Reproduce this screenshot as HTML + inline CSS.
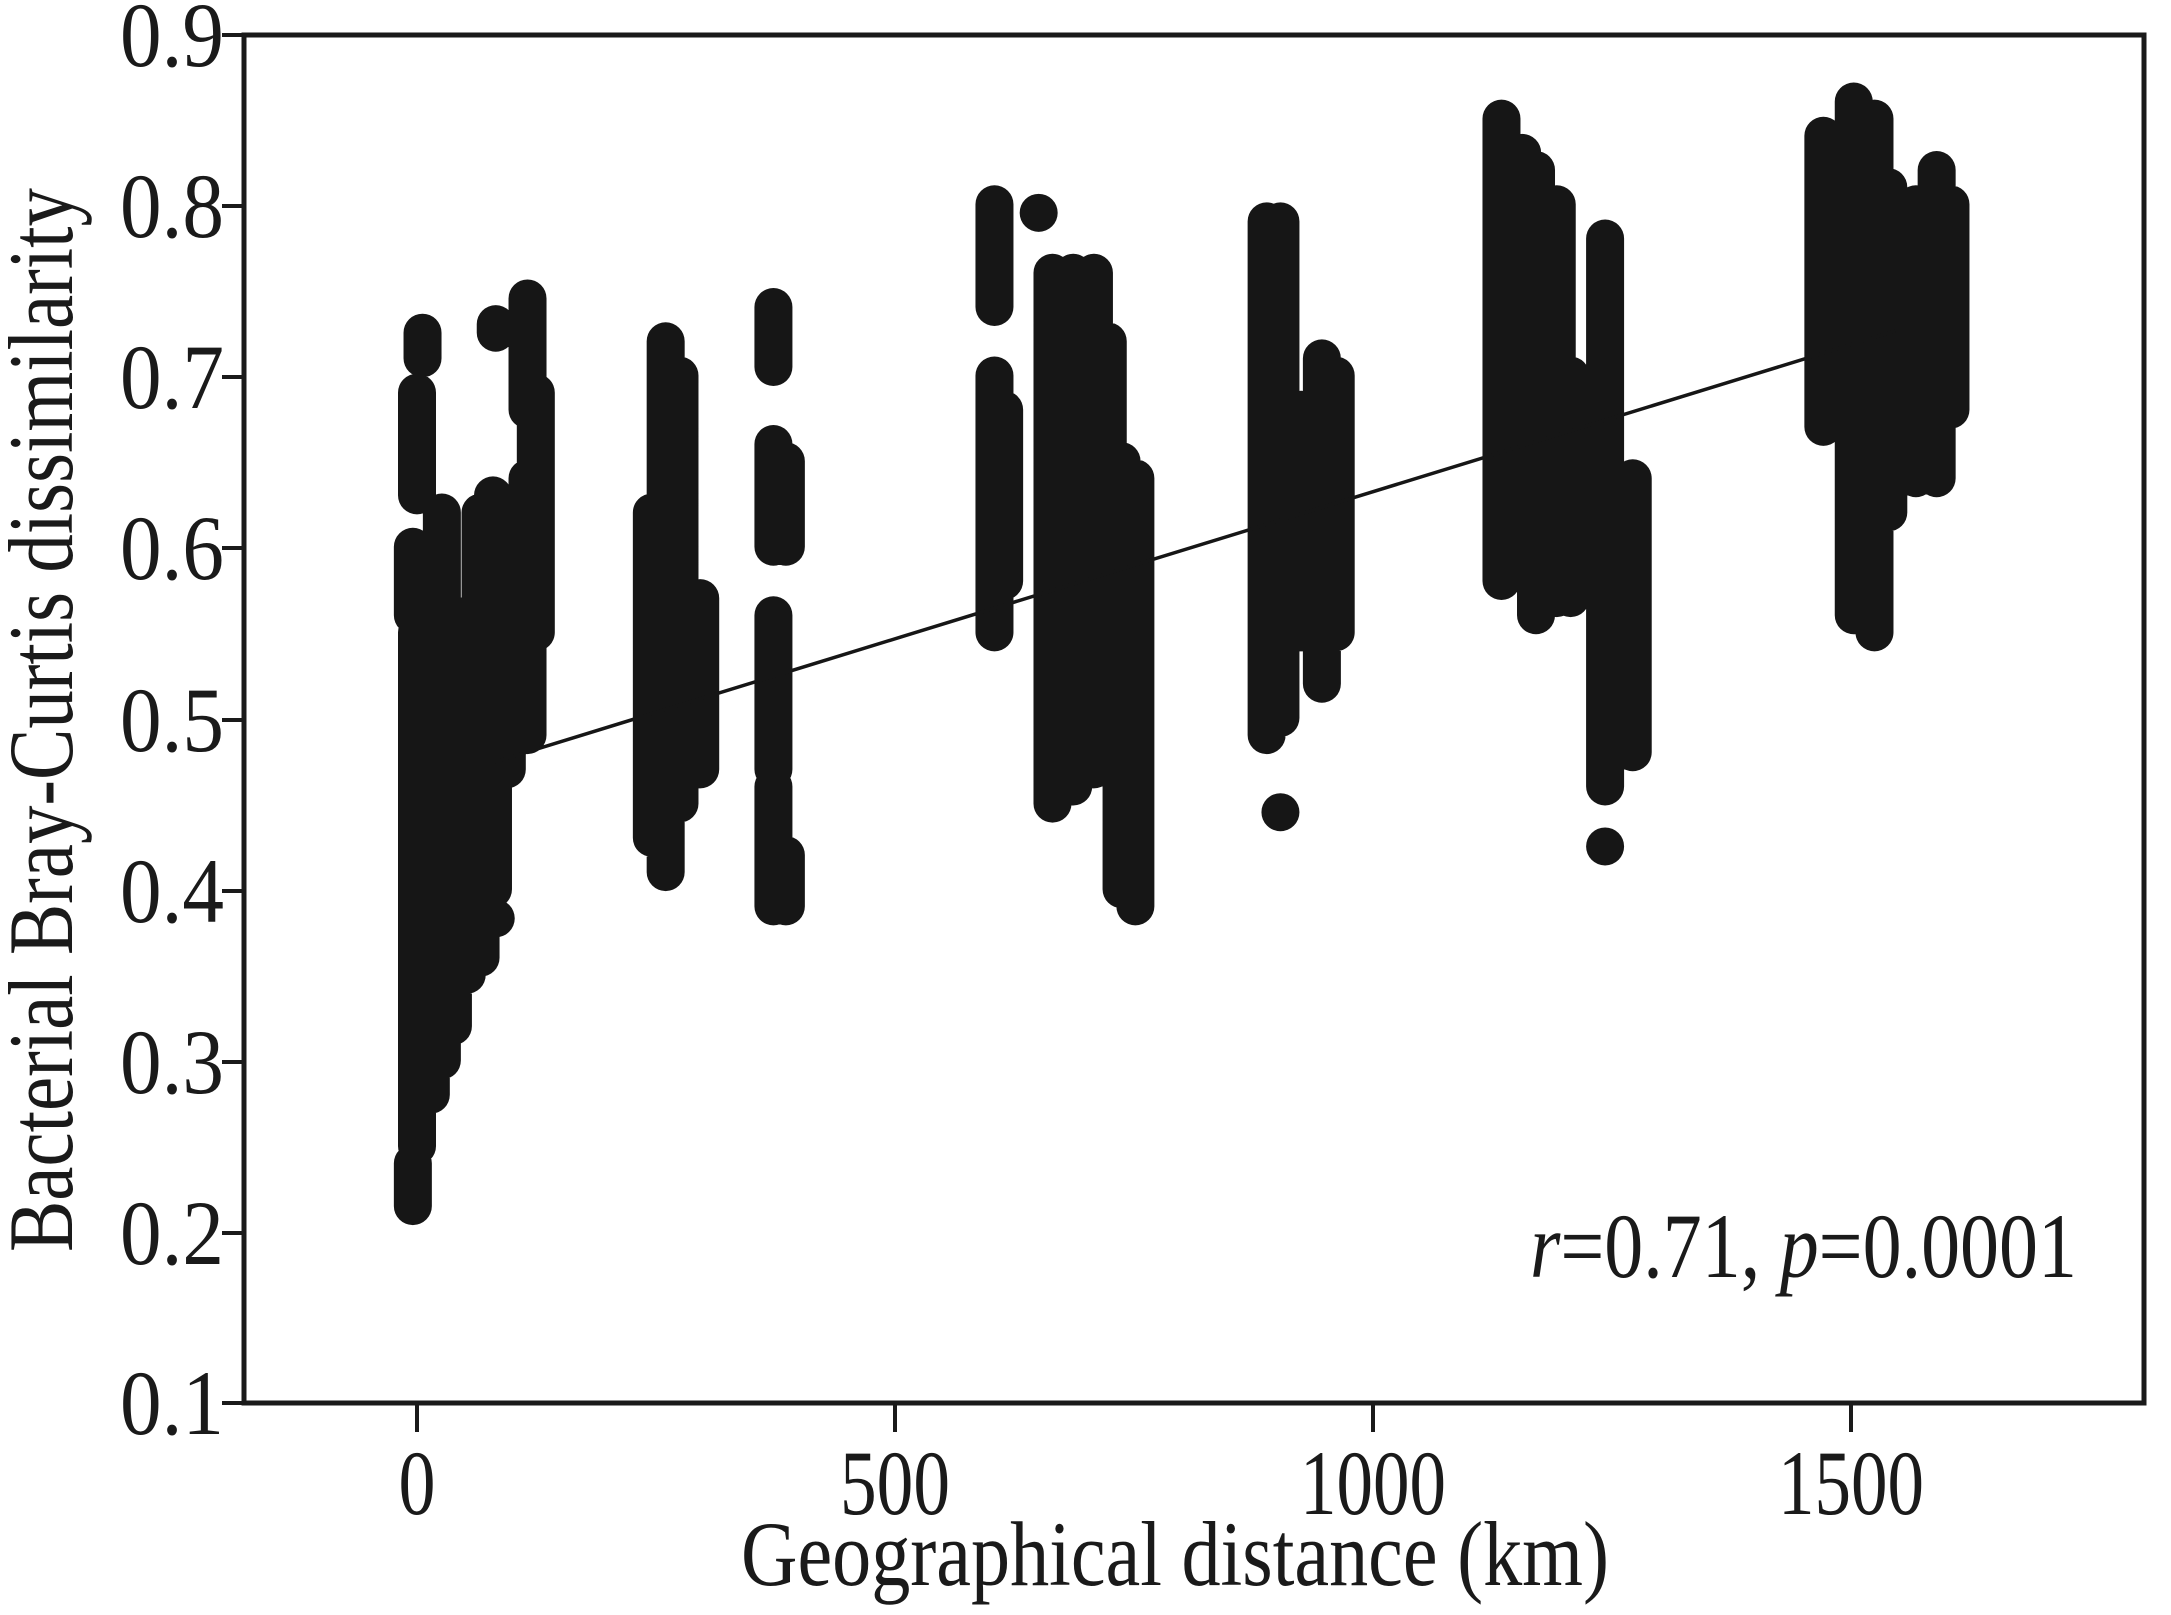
<!DOCTYPE html>
<html><head><meta charset="utf-8"><style>
html,body{margin:0;padding:0;background:#fff;width:2171px;height:1615px;overflow:hidden}
svg{display:block}
text{font-family:"Liberation Serif",serif;fill:#1a1a1a}
</style></head><body>
<svg width="2171" height="1615" viewBox="0 0 2171 1615" xmlns="http://www.w3.org/2000/svg">
<rect width="2171" height="1615" fill="#fff"/>
<g transform="matrix(1.3815 0 0 -1712.5 2.55 1574.25)" stroke="#161616" stroke-width="38" stroke-linecap="round" fill="none">
<path vector-effect="non-scaling-stroke" d="
M297 0.215L297 0.24
M300 0.25L300 0.55
M297 0.56L297 0.60
M300 0.63L300 0.69
M304 0.71L304 0.725
M310 0.28L310 0.53
M318 0.30L318 0.62
M326 0.32L326 0.50
M336 0.35L336 0.56
M346 0.36L346 0.62
M355 0.40L355 0.63
M357 0.383L357 0.383
M365 0.47L365 0.62
M357 0.725L357 0.73
M372 0.52L372 0.62
M380 0.49L380 0.64
M380 0.68L380 0.745
M386 0.55L386 0.69
M470 0.43L470 0.62
M480 0.41L480 0.72
M490 0.45L490 0.70
M505 0.47L505 0.57
M558 0.39L558 0.46
M558 0.47L558 0.56
M558 0.60L558 0.66
M558 0.705L558 0.74
M567 0.39L567 0.42
M567 0.60L567 0.65
M718 0.55L718 0.70
M718 0.74L718 0.80
M725 0.58L725 0.68
M750 0.795L750 0.795
M760 0.45L760 0.76
M775 0.46L775 0.76
M790 0.47L790 0.76
M800 0.49L800 0.72
M810 0.40L810 0.65
M820 0.39L820 0.64
M785 0.50L785 0.62
M915 0.49L915 0.79
M925 0.445L925 0.445
M925 0.50L925 0.79
M940 0.55L940 0.68
M955 0.52L955 0.71
M965 0.55L965 0.70
M1085 0.58L1085 0.85
M1100 0.60L1100 0.83
M1110 0.56L1110 0.82
M1125 0.57L1125 0.80
M1135 0.57L1135 0.70
M1160 0.425L1160 0.425
M1160 0.46L1160 0.78
M1180 0.48L1180 0.64
M1318 0.67L1318 0.84
M1340 0.56L1340 0.86
M1355 0.55L1355 0.85
M1365 0.62L1365 0.81
M1385 0.64L1385 0.80
M1400 0.64L1400 0.82
M1410 0.68L1410 0.80"/>
<path vector-effect="non-scaling-stroke" stroke-width="3.5" stroke-linecap="butt" d="M355 0.474L1370 0.726"/>
</g>
<g stroke="#1a1a1a" fill="none">
<rect x="244" y="35" width="1900" height="1368" stroke-width="5"/>
<path stroke-width="4" d="M222 35H244M222 206H244M222 377H244M222 548H244M222 720H244M222 891H244M222 1062H244M222 1233H244M222 1403H244M417 1403V1432M895 1403V1432M1373 1403V1432M1851 1403V1432"/>
</g>
<g font-size="92" text-anchor="end">
<text x="224" y="66" textLength="104" lengthAdjust="spacingAndGlyphs">0.9</text>
<text x="224" y="237" textLength="104" lengthAdjust="spacingAndGlyphs">0.8</text>
<text x="224" y="408" textLength="104" lengthAdjust="spacingAndGlyphs">0.7</text>
<text x="224" y="579" textLength="104" lengthAdjust="spacingAndGlyphs">0.6</text>
<text x="224" y="751" textLength="104" lengthAdjust="spacingAndGlyphs">0.5</text>
<text x="224" y="922" textLength="104" lengthAdjust="spacingAndGlyphs">0.4</text>
<text x="224" y="1093" textLength="104" lengthAdjust="spacingAndGlyphs">0.3</text>
<text x="224" y="1264" textLength="104" lengthAdjust="spacingAndGlyphs">0.2</text>
<text x="224" y="1434" textLength="104" lengthAdjust="spacingAndGlyphs">0.1</text>
</g>
<g font-size="92" text-anchor="middle">
<text x="417" y="1514" textLength="37" lengthAdjust="spacingAndGlyphs">0</text>
<text x="895" y="1514" textLength="110" lengthAdjust="spacingAndGlyphs">500</text>
<text x="1373" y="1514" textLength="146" lengthAdjust="spacingAndGlyphs">1000</text>
<text x="1851" y="1514" textLength="146" lengthAdjust="spacingAndGlyphs">1500</text>
<text x="1175" y="1585" textLength="868" lengthAdjust="spacingAndGlyphs">Geographical distance (km)</text>
<text transform="translate(72,720) rotate(-90)" x="0" y="0" textLength="1064" lengthAdjust="spacingAndGlyphs">Bacterial Bray-Curtis dissimilarity</text>
</g>
<text x="1530" y="1277" font-size="92" textLength="547" lengthAdjust="spacingAndGlyphs"><tspan font-style="italic">r</tspan>=0.71, <tspan font-style="italic">p</tspan>=0.0001</text>
</svg>
</body></html>
